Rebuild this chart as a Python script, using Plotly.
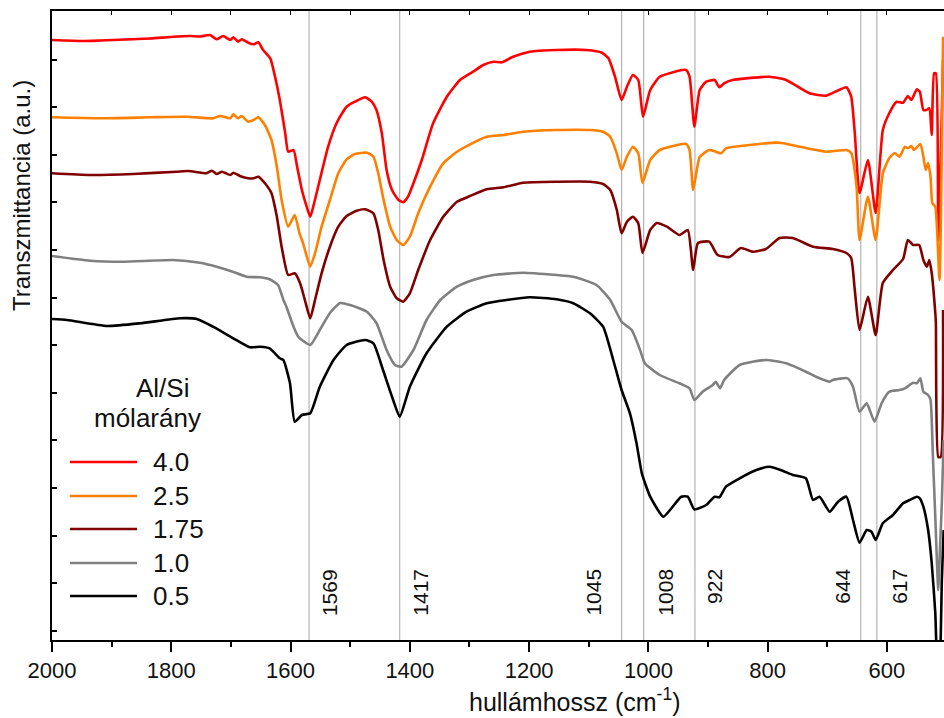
import plotly.graph_objects as go

# ---------------- data ----------------
series_names = ["4.0", "2.5", "1.75", "1.0", "0.5"]
series_colors = ["#ff0000", "#ff8000", "#800000", "#808080", "#000000"]

wn_40 = [2000, 1948, 1919, 1835, 1802, 1769, 1752, 1735, 1724, 1713, 1701, 1696, 1688, 1682, 1671, 1662, 1654,
         1646, 1634, 1626, 1618, 1609, 1604, 1595, 1589, 1581, 1573, 1567, 1562, 1551, 1537, 1523, 1512, 1506,
         1492, 1475, 1464, 1456, 1447, 1439, 1430, 1419, 1411, 1403, 1394, 1380, 1361, 1338, 1316, 1294, 1277,
         1260, 1246, 1227, 1199, 1154, 1104, 1078, 1067, 1056, 1045, 1036, 1026, 1017, 1009, 997, 981, 937, 931,
         923, 914, 903, 889, 881, 873, 859, 797, 769, 730, 702, 668, 660, 654, 646, 632, 619, 607, 596, 584, 573,
         565, 559, 550, 545, 539, 534, 529, 525, 521, 518, 514, 506]
t_40 = [600, 599, 599.5, 601.5, 603, 604, 603.5, 605, 600.7, 604, 600, 602.7, 598.3, 600.7, 597.3, 595.7, 597.7,
        590, 581.7, 563.3, 540, 507, 488.3, 490, 473.3, 450, 433.3, 423.3, 433.3, 460, 493.3, 516.7, 528.3, 533.3,
        538.3, 542.7, 538.3, 530, 506.7, 470, 450, 440, 437.7, 443.3, 456.7, 480, 516.7, 543.3, 560, 568.3, 575,
        578.3, 577.7, 583.3, 588.3, 590, 590, 587.3, 581.7, 563.3, 540, 553.3, 565, 560, 523.3, 550, 563.3, 570, 563.3,
        513.3, 550, 558.3, 560, 552.7, 556.7, 560, 563.3, 560, 546.7, 544.3, 552.7, 543.3, 507, 447, 480, 427, 510,
        527, 538.3, 537.3, 544, 540, 550.7, 548.3, 530, 530, 531.7, 505, 566.7, 566.7, 400, 580]

wn_25 = [2000, 1919, 1836, 1774, 1730, 1718, 1701, 1696, 1688, 1682, 1671, 1662, 1654, 1643, 1632, 1623, 1615,
         1604, 1593, 1585, 1579, 1567, 1559, 1548, 1534, 1520, 1506, 1492, 1472, 1461, 1453, 1444, 1433, 1422,
         1411, 1400, 1386, 1366, 1344, 1321, 1299, 1271, 1243, 1210, 1154, 1098, 1076, 1064, 1053, 1045, 1036,
         1026, 1017, 1010, 997, 981, 937, 931, 925, 914, 898, 887, 878, 870, 831, 780, 746, 702, 668, 660, 651,
         646, 632, 619, 607, 596, 587, 579, 570, 565, 559, 555, 544, 539, 535, 531, 527, 524, 519, 512, 506]
t_25 = [522.7, 521.7, 522.7, 523.3, 521.7, 524, 521.7, 525.7, 521.7, 524, 518.3, 520, 522.7, 515, 500, 473.3, 440,
        413.3, 425, 406.7, 396.7, 373.3, 386.7, 413.3, 440, 466.7, 480.7, 486, 487.3, 483.3, 466.7, 440, 413.3, 400,
        395, 403.3, 426.7, 453.3, 476.7, 488.3, 495.7, 503.3, 505, 508.3, 510, 510, 508.3, 503.3, 486.7, 470, 483.3,
        493.3, 486.7, 457, 480, 490, 496, 490, 450, 483, 490, 488.3, 486.7, 491.7, 495, 497.3, 493.3, 488.3, 490, 487,
        453.3, 400, 443.3, 400, 466.7, 482, 487, 483.3, 493.3, 491.7, 494, 490, 496, 483.3, 470, 477, 463.3, 437,
        433.3, 360, 603.3]

wn_175 = [2000, 1936, 1864, 1791, 1771, 1741, 1732, 1724, 1715, 1701, 1696, 1685, 1671, 1662, 1654, 1643, 1632,
          1623, 1615, 1604, 1593, 1584, 1576, 1567, 1559, 1548, 1534, 1520, 1506, 1489, 1475, 1461, 1453, 1444,
          1433, 1422, 1411, 1400, 1386, 1366, 1344, 1321, 1299, 1271, 1243, 1210, 1154, 1098, 1076, 1064, 1053,
          1045, 1036, 1026, 1017, 1010, 997, 986, 969, 948, 934, 925, 917, 898, 884, 864, 845, 825, 803, 780, 758,
          724, 691, 668, 660, 654, 646, 632, 619, 607, 590, 573, 565, 556, 546, 539, 533, 529, 525, 519, 518, 514,
          510, 506]
t_175 = [466.7, 465, 466, 468.3, 469, 466.7, 469.3, 466, 468.3, 465, 467.3, 464, 461.7, 461.7, 463.3, 456.7, 446.7,
         423.3, 393.3, 365, 366.7, 356.7, 340, 321.7, 340, 366.7, 393.3, 413.3, 424, 429.3, 430.7, 426.7, 410, 380,
         353.3, 341.7, 338.3, 346.7, 370, 400, 423.3, 438.3, 444, 450.7, 452.7, 457.3, 458.3, 458.3, 456, 450, 430,
         406.7, 418.3, 423.3, 416.7, 387, 410, 417, 413.3, 405, 410, 370, 397, 398.3, 385, 383, 392, 388.3, 391, 402,
         402, 393.3, 391, 387, 382, 350, 310, 343.3, 305, 357, 370, 381, 400, 395, 395, 380, 373.3, 380, 367, 327,
         317, 183, 183, 330]

wn_10 = [2000, 1936, 1881, 1797, 1752, 1724, 1697, 1674, 1651, 1635, 1621, 1612, 1607, 1595, 1587, 1581, 1567,
         1551, 1534, 1517, 1500, 1472, 1456, 1439, 1425, 1414, 1394, 1372, 1349, 1321, 1294, 1260, 1210, 1154,
         1126, 1087, 1064, 1045, 1028, 1014, 1006, 981, 948, 931, 923, 909, 892, 887, 880, 873, 847, 803, 769, 736,
         719, 696, 691, 666, 657, 646, 634, 621, 609, 596, 579, 570, 562, 556, 550, 544, 539, 531, 527, 523, 519,
         514, 511, 508, 505]
t_10 = [384, 379.3, 378.3, 380, 377.3, 373.3, 368.3, 363.3, 362.7, 360.7, 355, 340, 333.3, 313.3, 303.3, 300, 295,
        310, 327, 337, 335, 328.3, 317, 290, 275, 273.3, 290, 320, 340, 353.3, 360, 365, 367.3, 365, 363.3, 355, 340,
        318.3, 310, 290, 276.7, 265, 256.7, 251.7, 240, 248.3, 255, 258.3, 251.7, 260, 275, 280, 276.7, 268.3, 263.3,
        258.3, 260, 261.7, 253.3, 228.3, 236.7, 218.3, 236.7, 248.3, 250, 251.7, 255, 257.3, 256.7, 261.7, 248.3,
        245, 240, 183.3, 123.3, 50, 93.3, 137, 200]

wn_05 = [2000, 1975, 1908, 1852, 1785, 1757, 1730, 1696, 1668, 1651, 1635, 1618, 1612, 1601, 1593, 1581, 1567,
         1551, 1528, 1506, 1475, 1461, 1445, 1428, 1417, 1400, 1372, 1338, 1305, 1271, 1238, 1199, 1154, 1126,
         1098, 1076, 1059, 1045, 1031, 1020, 1011, 997, 975, 961, 945, 934, 923, 903, 889, 881, 870, 847, 819, 797,
         775, 758, 736, 724, 713, 696, 682, 668, 657, 646, 634, 626, 619, 607, 590, 573, 562, 550, 545, 539, 531,
         525, 519, 516, 512, 508, 505]
t_05 = [321, 320, 314, 316.7, 321.7, 321, 313.3, 301.7, 292.7, 293.3, 291.7, 281.7, 280, 256.7, 218.3, 225, 226.7,
        253.3, 280, 295, 300, 296.7, 270, 240, 223.3, 253.3, 286.7, 313.3, 328.3, 336.7, 340, 342.7, 340.7, 336.7,
        326.7, 313.3, 280, 250, 226.7, 197, 166.7, 143.3, 123.3, 132, 143.3, 143.3, 130.7, 135, 143.3, 142.7, 153.3,
        161.7, 170, 173.3, 169.3, 165, 161.7, 140, 143.3, 128.3, 138.3, 143.3, 120, 97.3, 110, 108.3, 100, 116.7,
        125, 136.7, 140, 143.3, 141.7, 133.3, 110, 77, 27, -20, -30, 60, 110]

peaks = [1569, 1417, 1045, 1008, 922, 644, 617]
x_ticks = [2000, 1800, 1600, 1400, 1200, 1000, 800, 600]

# ---------------- figure ----------------
W, H = 944, 718
ML, MR, MT, MB = 52, 0, 11, 78
PW, PH = W - ML - MR, H - MT - MB


def px_x(px):
    return (px - ML) / PW


def px_y(py):
    return (H - MB - py) / PH


FONT = "Liberation Sans, Arial, sans-serif"
fig = go.Figure()

all_wn = [wn_40, wn_25, wn_175, wn_10, wn_05]
all_t = [t_40, t_25, t_175, t_10, t_05]
for name, col, wn, tt in zip(series_names, series_colors, all_wn, all_t):
    assert len(wn) == len(tt), name
    fig.add_trace(go.Scatter(x=wn, y=tt, mode="lines", name=name,
                             line=dict(color=col, width=2.6, shape="spline", smoothing=0.5),
                             showlegend=False, hoverinfo="skip"))

# invisible trace so that the top tick axis is rendered
fig.add_trace(go.Scatter(x=[], y=[], xaxis="x2", showlegend=False, hoverinfo="skip"))

# peak reference lines and labels
label_side = {1569: ("left", 7), 1417: ("left", 7), 1045: ("right", -15), 1008: ("left", 8),
              922: ("left", 6), 644: ("right", -5), 617: ("left", 9)}
for p in peaks:
    fig.add_shape(type="line", x0=p, x1=p, y0=0, y1=1, xref="x", yref="paper",
                  line=dict(color="#b4b4b4", width=1.2), layer="below")
    anc, sh = label_side[p]
    fig.add_annotation(x=p, y=px_y(567), xref="x", yref="paper", text=str(p), textangle=-90,
                       showarrow=False, xanchor=anc, yanchor="top", xshift=sh,
                       font=dict(family=FONT, size=21, color="#111111"))

# legend (drawn manually to match the long line samples)
fig.add_annotation(x=px_x(162), y=px_y(388), xref="paper", yref="paper", text="Al/Si",
                   showarrow=False, xanchor="center", yanchor="middle",
                   font=dict(family=FONT, size=26, color="#111111"))
fig.add_annotation(x=px_x(147), y=px_y(418), xref="paper", yref="paper", text="mólarány",
                   showarrow=False, xanchor="center", yanchor="middle",
                   font=dict(family=FONT, size=26, color="#111111"))
leg_rows = [462, 496, 529, 563, 596]
for name, col, py in zip(series_names, series_colors, leg_rows):
    fig.add_shape(type="line", x0=px_x(70), x1=px_x(137), y0=px_y(py), y1=px_y(py),
                  xref="paper", yref="paper", line=dict(color=col, width=2.6))
    fig.add_annotation(x=px_x(151), y=px_y(py), xref="paper", yref="paper", text=name,
                       showarrow=False, xanchor="left", yanchor="middle",
                       font=dict(family=FONT, size=26, color="#111111"))

# axis titles
fig.add_annotation(x=px_x(574), y=px_y(700), xref="paper", yref="paper",
                   text="hullámhossz (cm<sup>-1</sup>)", showarrow=False,
                   xanchor="center", yanchor="middle", font=dict(family=FONT, size=25, color="#111111"))
fig.add_annotation(x=px_x(22), y=px_y(196), xref="paper", yref="paper",
                   text="Transzmittancia (a.u.)", textangle=-90, showarrow=False,
                   xanchor="center", yanchor="middle", font=dict(family=FONT, size=24, color="#111111"))

fig.update_layout(
    width=W, height=H,
    margin=dict(l=ML, r=MR, t=MT, b=MB, pad=0),
    paper_bgcolor="white", plot_bgcolor="white",
    showlegend=False,
    xaxis=dict(range=[2000, 504.4], showline=True, linecolor="black", linewidth=2, mirror=True,
               ticks="outside", ticklen=10, tickwidth=1.5, tickcolor="black",
               tickvals=x_ticks, ticktext=[str(v) for v in x_ticks],
               tickfont=dict(family=FONT, size=22, color="#111111"),
               minor=dict(dtick=100, tick0=0, ticks="outside", ticklen=5, tickwidth=1.5, tickcolor="black"),
               showgrid=False, zeroline=False),
    xaxis2=dict(range=[2000, 504.4], overlaying="x", side="top", anchor="y", showline=False,
                ticks="inside", ticklen=4, tickwidth=1.2, tickcolor="black", dtick=100, tick0=0,
                showticklabels=False, showgrid=False, zeroline=False),
    yaxis=dict(range=[0, PH], showline=True, linecolor="black", linewidth=2,
               ticks="inside", ticklen=5, tickwidth=1.5, tickcolor="black", tick0=9.3, dtick=47.6,
               showticklabels=False, showgrid=False, zeroline=False),
)

fig.write_html("out.html", config={"displayModeBar": False},
               post_script="document.body.style.margin='0px';document.body.style.overflow='hidden';")
